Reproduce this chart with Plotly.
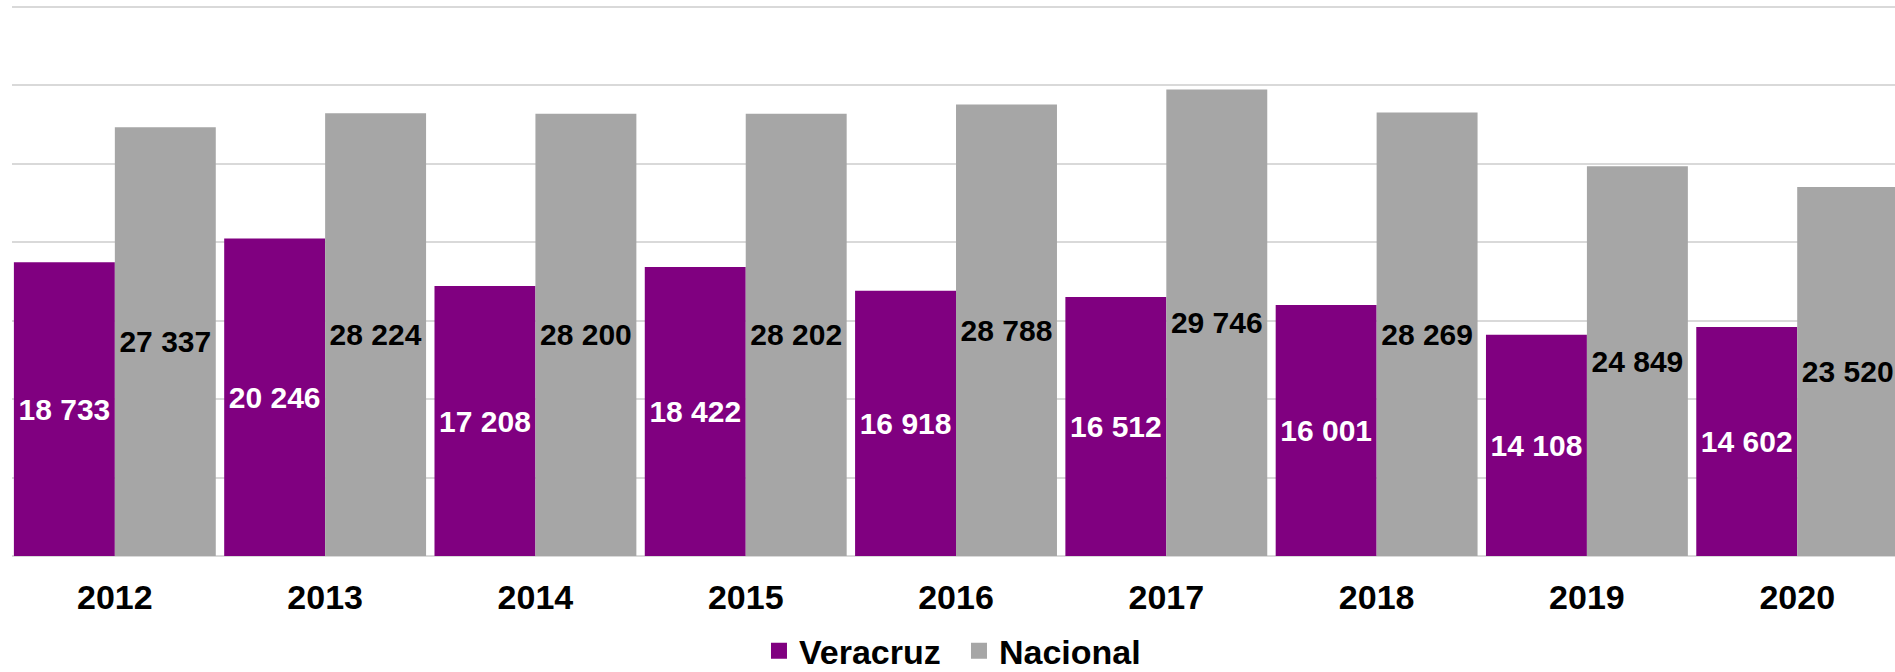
import plotly.graph_objects as go

years = ["2012", "2013", "2014", "2015", "2016", "2017", "2018", "2019", "2020"]
veracruz = [18733, 20246, 17208, 18422, 16918, 16512, 16001, 14108, 14602]
nacional = [27337, 28224, 28200, 28202, 28788, 29746, 28269, 24849, 23520]

FONT = "Liberation Sans, Arial, sans-serif"
PURPLE = "#800080"
GRAY = "#A6A6A6"

fig = go.Figure()
fig.add_trace(go.Bar(
    name="Veracruz", x=years, y=veracruz, showlegend=False,
    marker=dict(color=PURPLE, line=dict(width=0)),
    texttemplate="%{y:,}", textposition="inside", insidetextanchor="middle",
    textangle=0, constraintext="none",
    textfont=dict(family=FONT, size=30, color="white", weight="bold"),
))
fig.add_trace(go.Bar(
    name="Nacional", x=years, y=nacional, showlegend=False,
    marker=dict(color=GRAY, line=dict(width=0)),
    texttemplate="%{y:,}", textposition="inside", insidetextanchor="middle",
    textangle=0, constraintext="none",
    textfont=dict(family=FONT, size=30, color="black", weight="bold"),
))
# legend entries with larger square swatches
for name, col in [("Veracruz", PURPLE), ("Nacional", GRAY)]:
    fig.add_trace(go.Scatter(
        name=name, x=[None], y=[None], mode="markers",
        marker=dict(symbol="square", size=16, color=col), showlegend=True,
    ))

fig.update_layout(
    width=1895, height=672,
    margin=dict(l=12, r=0, t=5, b=116, autoexpand=False),
    paper_bgcolor="white", plot_bgcolor="white",
    barmode="group", bargap=0.04, bargroupgap=0,
    separators=". ",
    font=dict(family=FONT, color="black"),
    showlegend=True,
    legend=dict(orientation="h", x=0.3967, xanchor="left",
                yref="container", y=0.031, yanchor="middle",
                font=dict(family=FONT, size=34, color="black", weight="bold"),
                traceorder="normal", itemsizing="trace", itemwidth=30,
                entrywidth=155, entrywidthmode="pixels",
                bgcolor="rgba(0,0,0,0)"),
    xaxis=dict(range=[-0.489, 8.465], showgrid=False, showline=False, ticks="",
               ticklabelstandoff=18,
               tickfont=dict(family=FONT, size=34, color="black", weight="bold")),
    yaxis=dict(range=[0, 35127], dtick=5000, tick0=0, showgrid=True, gridcolor="#D9D9D9",
               gridwidth=1.5, zeroline=True, zerolinecolor="#D9D9D9", zerolinewidth=1.5,
               showticklabels=False, showline=False, ticks=""),
)

fig.write_html("out.html", config={"displayModeBar": False},
               post_script="document.body.style.margin='0';")
